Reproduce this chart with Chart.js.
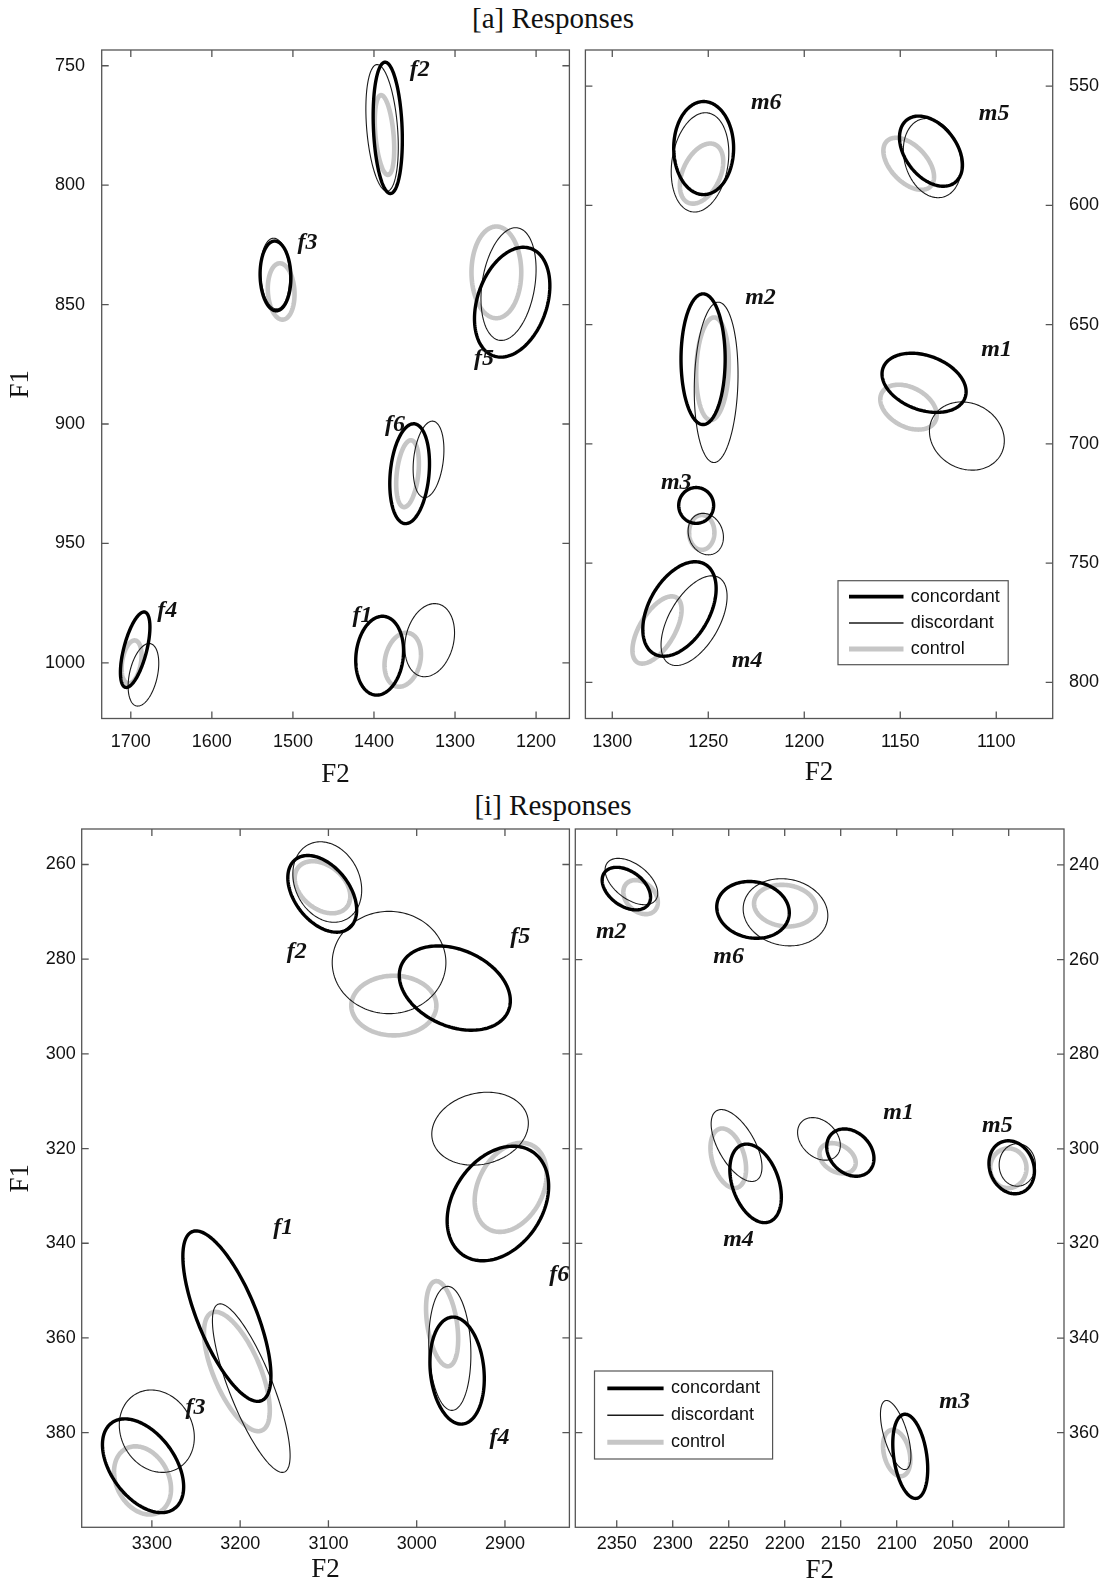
<!DOCTYPE html>
<html>
<head>
<meta charset="utf-8">
<script src="https://cdn.jsdelivr.net/npm/chart.js@4.4.1/dist/chart.umd.min.js"></script>
<style>
  html, body { margin: 0; padding: 0; background: #fff; overflow: hidden; }
  body { width: 1110px; height: 1584px; position: relative; }
  .titulo { position: absolute; left: 0; width: 1106px; text-align: center;
            font-family: "Liberation Serif", "Times New Roman", serif; font-size: 29px;
            line-height: 1; color: #111; }
  canvas { position: absolute; }
</style>
</head>
<body>
<div class="titulo" style="top:4px">[a] Responses</div>
<div class="titulo" style="top:791px">[i] Responses</div>
<canvas id="aFem" width="577" height="800" style="left:0;top:0"></canvas>
<canvas id="aMas" width="533" height="800" style="left:577px;top:0"></canvas>
<canvas id="iFem" width="577" height="794" style="left:0;top:790px"></canvas>
<canvas id="iMas" width="539" height="794" style="left:571px;top:790px"></canvas>
<script>
// ---------- DATOS ----------
// cada elipse: [F2 centro, F1 centro, semiancho F2, semialto F1, correlacion]

// [a] mujeres
const aFemVocales = ["f2", "f3", "f5", "f6", "f4", "f1"];
const aFemConc = [
  [1383, 776, 18, 27.5, -0.18],
  [1521.5, 838, 19, 14.6, -0.05],
  [1229.5, 849, 46.5, 23, 0.3],
  [1356, 920.8, 24.5, 20.9, 0.2],
  [1694.6, 994.5, 18.2, 15.8, 0.6],
  [1393, 997, 29.5, 16.5, 0.12]
];
const aFemDisc = [
  [1390, 776, 20, 26.5, -0.3],
  [1522, 837, 18, 14.8, -0.1],
  [1234, 841.4, 34, 23.6, 0.26],
  [1332.7, 914.8, 19, 16, 0.25],
  [1684.4, 1005, 18.9, 13.1, 0.37],
  [1331.3, 990.5, 30.7, 15.3, 0.2]
];
const aFemCtrl = [
  [1387, 779, 12, 16.7, -0.35],
  [1514.5, 844.5, 16.5, 11.8, -0.1],
  [1249, 836.5, 30.7, 19.2, 0],
  [1358.6, 920.8, 14, 14, 0.3],
  [1699, 999.6, 12.3, 9, 0.3],
  [1364.5, 998.7, 22.5, 11.3, 0.2]
];
const aFemEtiq = [[1343.5, 751.8], [1481.9, 824.3], [1264.2, 872.7], [1374.2, 900.3], [1655.1, 978.4], [1414.3, 980.5]];
const aFemTicksX = [1700, 1600, 1500, 1400, 1300, 1200];
const aFemTicksY = [750, 800, 850, 900, 950, 1000];

// [a] hombres
const aMasVocales = ["m6", "m5", "m2", "m1", "m3", "m4"];
const aMasConc = [
  [1252.4, 576, 15.6, 19.5, 0],
  [1134, 577.3, 16.4, 14.7, -0.39],
  [1252.7, 664.5, 11.5, 27.4, 0],
  [1137.6, 674.4, 21.9, 12.4, -0.3],
  [1256.3, 725.8, 9.1, 7.5, 0],
  [1265, 769.2, 19.1, 19.8, 0.43]
];
const aMasDisc = [
  [1254.3, 582, 15, 20.8, 0.19],
  [1133.3, 580.2, 15.1, 16.6, -0.2],
  [1245.9, 674.2, 11.4, 33.6, 0.1],
  [1115.3, 696.7, 19.5, 14.3, -0.14],
  [1251.3, 737.8, 9.2, 8.7, -0.15],
  [1257.4, 774.1, 17.2, 18.8, 0.54]
];
const aMasCtrl = [
  [1253.5, 586.7, 11.3, 12.6, 0.4],
  [1145.6, 582.6, 13.2, 10.9, -0.5],
  [1247.8, 668.5, 8.5, 21.5, 0.1],
  [1145.7, 684.6, 14.7, 9.4, -0.35],
  [1253.4, 737.1, 6.6, 7.3, 0],
  [1276.7, 778, 12.8, 14.1, 0.6]
];
const aMasEtiq = [[1219.8, 557], [1101.1, 561.8], [1222.8, 638.9], [1099.8, 660.6], [1266.7, 716.3], [1229.8, 790.8]];
const aMasTicksX = [1300, 1250, 1200, 1150, 1100];
const aMasTicksY = [550, 600, 650, 700, 750, 800];

// [i] mujeres
const iFemVocales = ["f2", "f5", "f6", "f1", "f3", "f4"];
const iFemConc = [
  [3107, 266.2, 39, 8.1, -0.42],
  [2956.8, 286.1, 62.9, 8.9, -0.3],
  [2908, 331.6, 57.5, 12.1, 0.3],
  [3215, 355.4, 49.9, 18, -0.7],
  [3310, 387, 46, 9.9, -0.45],
  [2954.2, 366.9, 30.8, 11.3, -0.15]
];
const iFemDisc = [
  [3101.3, 263.7, 39, 8.5, -0.2],
  [3031.3, 280.7, 64.4, 10.8, 0],
  [2928.2, 315.8, 54.7, 7.7, 0.15],
  [3187.4, 370.6, 44, 17.8, -0.8],
  [3294.4, 379.7, 42.5, 8.7, -0.15],
  [2962.5, 362.2, 23.9, 13.1, -0.1]
];
const iFemCtrl = [
  [3106.7, 264.8, 31.5, 5.5, -0.35],
  [3025.9, 289.8, 48.2, 6.3, 0],
  [2893.5, 328.2, 40.8, 9.4, 0.3],
  [3203.7, 367.1, 37.3, 12.6, -0.65],
  [3310.6, 390.1, 32.3, 7.2, -0.25],
  [2971.2, 357, 18.2, 9, -0.36]
];
const iFemEtiq = [[3136, 278.4], [2882.6, 275.2], [2838.4, 346.6], [3151.2, 336.8], [3250.5, 374.8], [2906.1, 381.1]];
const iFemTicksX = [3300, 3200, 3100, 3000, 2900];
const iFemTicksY = [260, 280, 300, 320, 340, 360, 380];

// [i] hombres
const iMasVocales = ["m2", "m6", "m1", "m5", "m4", "m3"];
const iMasConc = [
  [2341.4, 245, 21.6, 4.5, -0.4],
  [2228.3, 249.5, 32.4, 6, -0.1],
  [2141.4, 300.8, 21.1, 5, -0.25],
  [1997.3, 303.9, 20.3, 5.6, -0.15],
  [2226, 307.3, 23, 8.3, -0.35],
  [2087.9, 365, 15.6, 8.9, -0.3]
];
const iMasDisc = [
  [2336.9, 243.5, 23.5, 4.9, -0.5],
  [2199.3, 250, 37.8, 7.1, -0.1],
  [2169.4, 297.9, 19.1, 4.5, -0.3],
  [1992.3, 303.4, 16.2, 4.5, 0],
  [2243, 299.3, 22.7, 7.6, -0.6],
  [2100.9, 360.5, 13.6, 7.3, -0.6]
];
const iMasCtrl = [
  [2328.7, 246.8, 15.4, 3.6, -0.3],
  [2199.8, 248.6, 27.6, 4.4, -0.1],
  [2152.8, 302, 16.2, 3.2, -0.3],
  [2000.3, 304.1, 16.2, 4.2, 0],
  [2250.4, 302, 15.9, 6.3, -0.35],
  [2100, 364.3, 12.2, 4.9, -0.3]
];
const iMasEtiq = [[2354.9, 254.1], [2250.1, 259.4], [2098.3, 292.3], [2010.1, 295.1], [2241.3, 319.2], [2048.3, 353.4]];
const iMasTicksX = [2350, 2300, 2250, 2200, 2150, 2100, 2050, 2000];
const iMasTicksY = [240, 260, 280, 300, 320, 340, 360];

// ---------- PLUGINS ----------
const SANS = '"Liberation Sans", Arial, sans-serif';
const SERIF = '"Liberation Serif", "Times New Roman", serif';

const elipses = {
  id: "elipses",
  afterDatasetsDraw(chart) {
    const { ctx, chartArea: a, scales: { x, y } } = chart;
    ctx.save();
    ctx.beginPath();
    ctx.rect(a.left, a.top, a.width, a.height);
    ctx.clip();
    chart.data.datasets.forEach(ds => {
      ctx.strokeStyle = ds.borderColor;
      ctx.lineWidth = ds.borderWidth;
      ctx.lineJoin = "round";
      ds.data.forEach(p => {
        const s = Math.sqrt(1 - p.rho * p.rho);
        ctx.beginPath();
        for (let k = 0; k <= 160; k++) {
          const t = k / 160 * 2 * Math.PI;
          const px = x.getPixelForValue(p.x + p.rx * Math.cos(t));
          const py = y.getPixelForValue(p.y + p.ry * (p.rho * Math.cos(t) + s * Math.sin(t)));
          if (k) ctx.lineTo(px, py); else ctx.moveTo(px, py);
        }
        ctx.closePath();
        ctx.stroke();
      });
    });
    ctx.restore();
  }
};

const etiquetas = {
  id: "etiquetas",
  afterDatasetsDraw(chart, args, o) {
    const { ctx, scales: { x, y } } = chart;
    ctx.save();
    ctx.font = "italic bold 24px " + SERIF;
    ctx.fillStyle = "#111";
    ctx.textAlign = "center";
    ctx.textBaseline = "middle";
    o.nombres.forEach((n, i) => {
      ctx.fillText(n, x.getPixelForValue(o.pos[i][0]), y.getPixelForValue(o.pos[i][1]));
    });
    ctx.restore();
  }
};

// caja con marcas hacia dentro en los cuatro lados
const marco = {
  id: "marco",
  afterDraw(chart) {
    const { ctx, chartArea: a, scales: { x, y } } = chart;
    const L = 7;
    ctx.save();
    ctx.strokeStyle = "#555";
    ctx.lineWidth = 1.3;
    ctx.strokeRect(a.left, a.top, a.width, a.height);
    ctx.beginPath();
    x.ticks.forEach(t => {
      const px = x.getPixelForValue(t.value);
      ctx.moveTo(px, a.bottom); ctx.lineTo(px, a.bottom - L);
      ctx.moveTo(px, a.top); ctx.lineTo(px, a.top + L);
    });
    y.ticks.forEach(t => {
      const py = y.getPixelForValue(t.value);
      ctx.moveTo(a.left, py); ctx.lineTo(a.left + L, py);
      ctx.moveTo(a.right, py); ctx.lineTo(a.right - L, py);
    });
    ctx.stroke();
    ctx.restore();
  }
};

const leyenda = {
  id: "leyenda",
  afterDraw(chart, args, o) {
    if (!o || !o.box) return;
    const { ctx } = chart;
    const b = o.box;
    ctx.save();
    ctx.fillStyle = "#fff";
    ctx.fillRect(b.x, b.y, b.w, b.h);
    ctx.strokeStyle = "#555";
    ctx.lineWidth = 1.2;
    ctx.strokeRect(b.x, b.y, b.w, b.h);
    ctx.font = "18px " + SANS;
    ctx.textBaseline = "middle";
    [2, 1, 0].forEach((di, i) => {
      const ds = chart.data.datasets[di];
      const yy = b.y + o.fila0 + i * o.paso;
      ctx.strokeStyle = ds.borderColor;
      ctx.lineWidth = ds.borderWidth + 0.4;
      ctx.beginPath();
      ctx.moveTo(b.x + o.l0, yy);
      ctx.lineTo(b.x + o.l1, yy);
      ctx.stroke();
      ctx.fillStyle = "#111";
      ctx.fillText(ds.label, b.x + o.tx, yy);
    });
    ctx.restore();
  }
};

// ---------- GRÁFICAS ----------
function serie(label, filas, color, ancho) {
  return {
    label,
    data: filas.map(f => ({ x: f[0], y: f[1], rx: f[2], ry: f[3], rho: f[4] })),
    borderColor: color,
    borderWidth: ancho,
    pointRadius: 0,
    showLine: false
  };
}

function crearPanel(id, c) {
  return new Chart(document.getElementById(id), {
    type: "scatter",
    data: {
      datasets: [
        serie("control", c.ctrl, "#c6c6c6", 4.6),
        serie("discordant", c.disc, "#1a1a1a", 1.1),
        serie("concordant", c.conc, "#000", 3.4)
      ]
    },
    options: {
      responsive: false,
      animation: false,
      events: [],
      layout: { padding: c.pad },
      plugins: {
        legend: { display: false },
        tooltip: { enabled: false },
        etiquetas: { nombres: c.nombres, pos: c.etiq },
        leyenda: c.leyenda || {}
      },
      scales: {
        x: {
          type: "linear", reverse: true, min: c.xMin, max: c.xMax,
          afterBuildTicks: s => { s.ticks = c.ticksX.map(v => ({ value: v })); },
          afterFit: s => { s.height = c.altoX; },
          grid: { display: false, drawTicks: false },
          border: { display: false },
          ticks: { autoSkip: false, maxRotation: 0, padding: c.padTickX, color: "#111",
                   font: { family: SANS, size: 18 }, callback: v => String(v) },
          title: { display: true, text: "F2", color: "#111",
                   font: { family: SERIF, size: 27, lineHeight: 1 },
                   padding: { top: 0, bottom: c.padTitX } }
        },
        y: {
          type: "linear", reverse: true, min: c.yMin, max: c.yMax, position: c.ladoY,
          afterBuildTicks: s => { s.ticks = c.ticksY.map(v => ({ value: v })); },
          afterFit: s => { s.width = c.anchoY; },
          grid: { display: false, drawTicks: false },
          border: { display: false },
          ticks: { autoSkip: false, padding: c.padTickY, color: "#111",
                   font: { family: SANS, size: 18 }, callback: v => String(v) },
          title: { display: c.ladoY === "left", text: "F1", color: "#111",
                   font: { family: SERIF, size: 27, lineHeight: 1 },
                   padding: { top: 7.5, bottom: 0 } }
        }
      }
    },
    plugins: [elipses, etiquetas, marco, leyenda]
  });
}

crearPanel("aFem", {
  conc: aFemConc, disc: aFemDisc, ctrl: aFemCtrl, nombres: aFemVocales, etiq: aFemEtiq,
  ticksX: aFemTicksX, ticksY: aFemTicksY,
  xMin: 1158.9, xMax: 1735.9, yMin: 743.4, yMax: 1023.3,
  pad: { left: 0, right: 7.6, top: 50, bottom: 0 },
  ladoY: "left", anchoY: 101.7, altoX: 81.5,
  padTickX: 12.4, padTickY: 16.7, padTitX: 11.5
});

crearPanel("aMas", {
  conc: aMasConc, disc: aMasDisc, ctrl: aMasCtrl, nombres: aMasVocales, etiq: aMasEtiq,
  ticksX: aMasTicksX, ticksY: aMasTicksY,
  xMin: 1070.6, xMax: 1314, yMin: 534.9, yMax: 815.1,
  pad: { left: 8.4, right: 0, top: 50, bottom: 0 },
  ladoY: "right", anchoY: 57.3, altoX: 81.5,
  padTickX: 12.4, padTickY: 16.3, padTitX: 13.2,
  leyenda: { box: { x: 261, y: 580.7, w: 170.2, h: 84 }, fila0: 16, paso: 26.2, l0: 11, l1: 65.5, tx: 72.8 }
});

crearPanel("iFem", {
  conc: iFemConc, disc: iFemDisc, ctrl: iFemCtrl, nombres: iFemVocales, etiq: iFemEtiq,
  ticksX: iFemTicksX, ticksY: iFemTicksY,
  xMin: 2827, xMax: 3379.5, yMin: 252.5, yMax: 400,
  pad: { left: 0, right: 7.6, top: 39, bottom: 0 },
  ladoY: "left", anchoY: 81.7, altoX: 56.7,
  padTickX: 5.9, padTickY: 6, padTitX: 0.5
});

crearPanel("iMas", {
  conc: iMasConc, disc: iMasDisc, ctrl: iMasCtrl, nombres: iMasVocales, etiq: iMasEtiq,
  ticksX: iMasTicksX, ticksY: iMasTicksY,
  xMin: 1950.6, xMax: 2387, yMin: 232.4, yMax: 380,
  pad: { left: 4.3, right: 0, top: 39, bottom: 0 },
  ladoY: "right", anchoY: 46, altoX: 56.7,
  padTickX: 5.9, padTickY: 5, padTitX: 0,
  leyenda: { box: { x: 23.5, y: 581, w: 178.1, h: 88 }, fila0: 17.3, paso: 27, l0: 12.8, l1: 69.1, tx: 76.4 }
});
</script>
</body>
</html>
